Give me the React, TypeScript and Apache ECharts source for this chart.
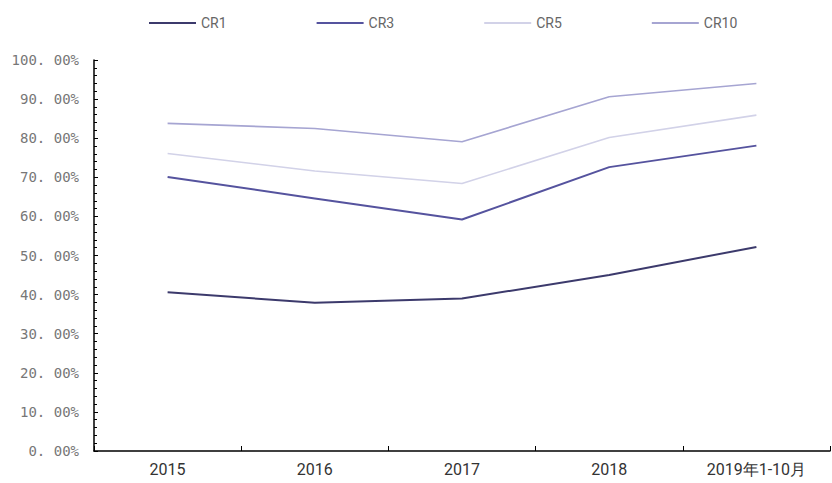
import React, { useEffect, useRef } from "react";
import * as echarts from "echarts";

const categories = ["2015", "2016", "2017", "2018", "2019年1-10月"];
const cr1 = [40.6, 37.9, 39.0, 45.0, 52.2];
const cr3 = [70.1, 64.6, 59.2, 72.6, 78.1];
const cr5 = [76.1, 71.6, 68.4, 80.2, 85.9];
const cr10 = [83.8, 82.5, 79.1, 90.6, 94.0];
const seriesNames = ["CR1", "CR3", "CR5", "CR10"];
const colors = ["#3c3a6c", "#55539e", "#d2d2e8", "#a6a5d2"];

export default function App() {
  const ref = useRef<HTMLDivElement>(null);
  useEffect(() => {
    if (!ref.current) return;
    const chart = echarts.init(ref.current, undefined, { renderer: "svg" });
    const data = [cr1, cr3, cr5, cr10];
    chart.setOption({
      animation: false,
      legend: {
        top: 11,
        left: 144,
        itemGap: 90,
        itemWidth: 47,
        itemHeight: 2,
        icon: "rect",
        data: seriesNames,
        textStyle: { color: "#666", fontSize: 14, fontFamily: "Roboto, sans-serif" },
      },
      grid: { left: 94, right: 2, top: 60, bottom: 32, containLabel: false },
      xAxis: {
        type: "category",
        data: categories,
        boundaryGap: true,
        axisLine: { lineStyle: { color: "#000", width: 1.5 } },
        axisTick: { show: true, inside: true, length: 5, lineStyle: { color: "#000" } },
        axisLabel: { color: "#333", fontSize: 16, margin: 10, fontFamily: "Roboto, sans-serif" },
        splitLine: { show: false },
      },
      yAxis: {
        type: "value",
        min: 0,
        max: 100,
        interval: 10,
        axisLine: { show: true, lineStyle: { color: "#000", width: 1.5 } },
        axisTick: { show: true, inside: true, length: 4, lineStyle: { color: "#000" } },
        minorTick: { show: true, splitNumber: 5, length: 3, lineStyle: { color: "#000" } },
        axisLabel: {
          color: "#777",
          fontSize: 14,
          margin: 15,
          fontFamily: "DejaVu Sans Mono, monospace",
          formatter: (v: number) => v.toFixed(2).replace(".", ". ") + "%",
        },
        splitLine: { show: false },
      },
      series: seriesNames.map((name, i) => ({
        name,
        type: "line",
        data: data[i],
        symbol: "none",
        color: colors[i],
        lineStyle: { color: colors[i], width: i === 0 || i === 1 ? 2 : 1.6 },
      })),
    });
    return () => chart.dispose();
  }, []);
  return <div ref={ref} style={{ width: 832, height: 483, position: "absolute", left: 0, top: 0 }} />;
}
